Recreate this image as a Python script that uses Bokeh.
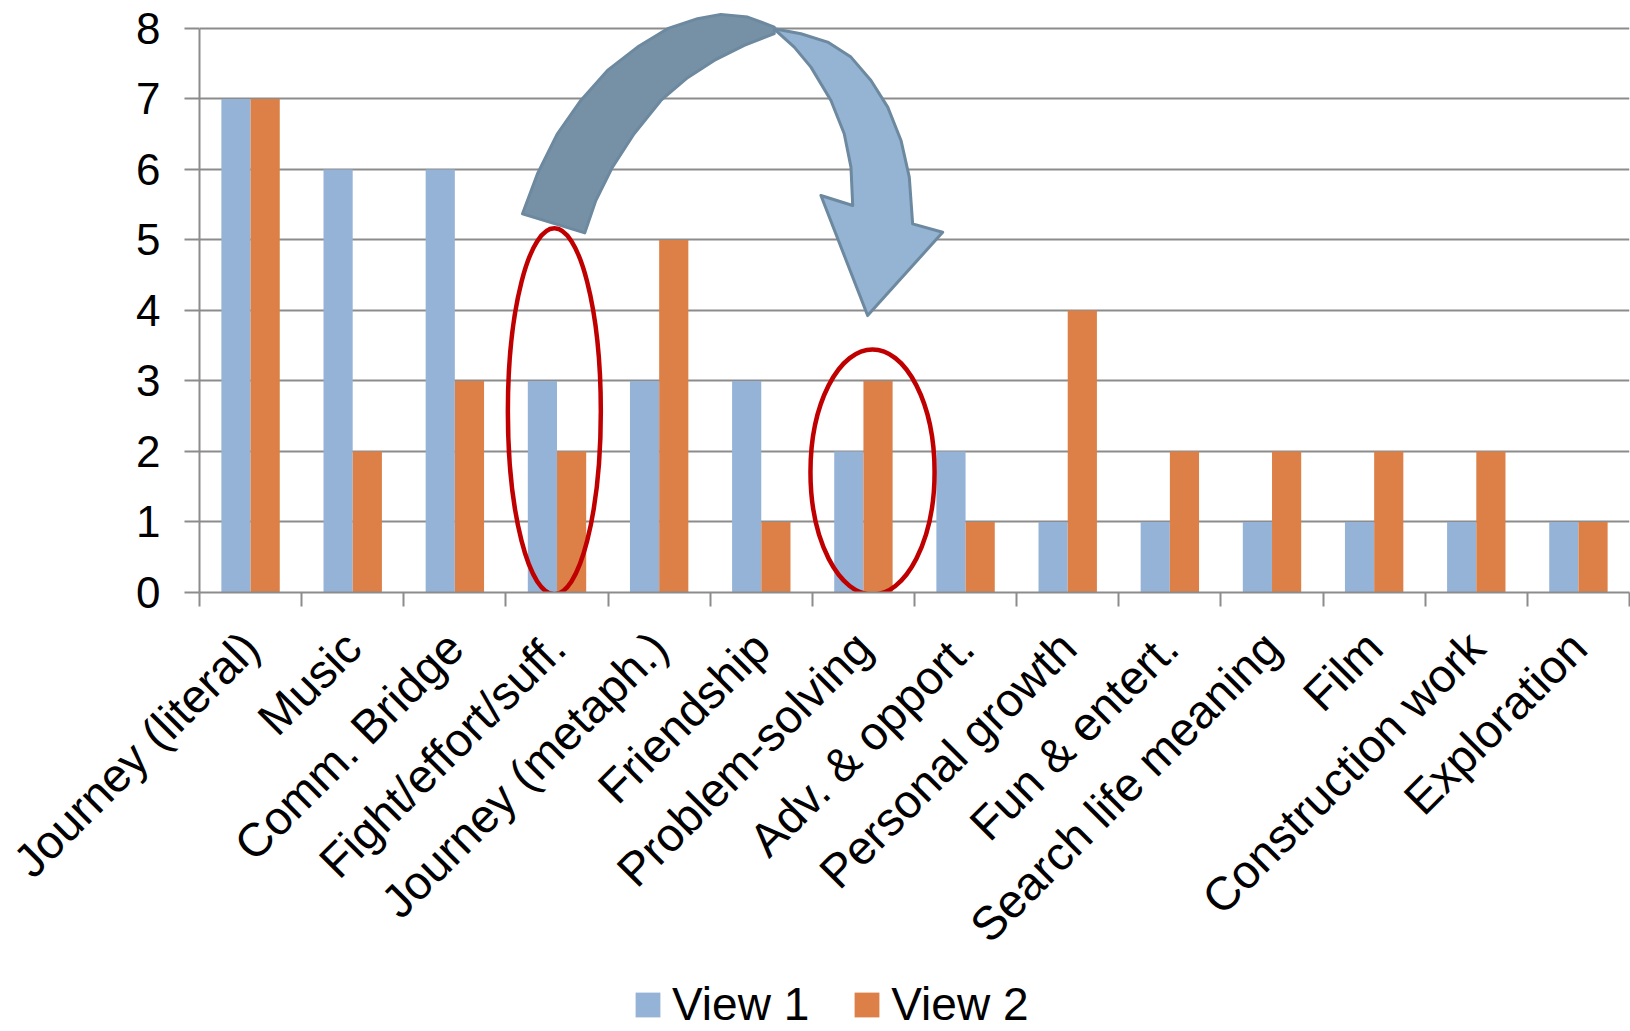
import math
from bokeh.plotting import figure
from bokeh.layouts import column
from bokeh.models import (Range1d, FactorRange, LinearAxis, FixedTicker, Legend,
                          LegendItem, ColumnDataSource, Grid)
from bokeh.transform import dodge
from bokeh.embed import file_html
from bokeh.resources import INLINE

# ---------------- data ----------------
categories = ["Journey (literal)", "Music", "Comm. Bridge", "Fight/effort/suff.",
              "Journey (metaph.)", "Friendship", "Problem-solving", "Adv. & opport.",
              "Personal growth", "Fun & entert.", "Search life meaning", "Film",
              "Construction work", "Exploration"]
view1 = [7, 6, 6, 3, 3, 3, 2, 2, 1, 1, 1, 1, 1, 1]
view2 = [7, 2, 3, 2, 5, 1, 3, 1, 4, 2, 2, 2, 2, 1]
series_names = ["View 1", "View 2"]
y_ticks = [0, 1, 2, 3, 4, 5, 6, 7, 8]

# highlighted categories (red ellipses): category, x offset, width (cat units), y centre, height
highlights = [
    ("Fight/effort/suff.", -0.026, 0.91, 2.57, 5.19),
    ("Problem-solving", 0.089, 1.215, 1.709, 3.475),
]

# curved arrow outline (category units, value units)
arrow_back = [
    (3.162, 5.371), (3.309, 5.939), (3.504, 6.507), (3.733, 6.979), (3.994, 7.405),
    (4.288, 7.736), (4.582, 7.997), (4.876, 8.139), (5.104, 8.200), (5.366, 8.162),
    (5.627, 8.020), (5.627, 7.926), (5.333, 7.760), (5.039, 7.547), (4.778, 7.302),
    (4.517, 6.979), (4.255, 6.507), (4.043, 6.033), (3.880, 5.560), (3.772, 5.101),
]
arrow_front = [
    (5.627, 7.997), (5.888, 7.926), (6.150, 7.807), (6.378, 7.594), (6.574, 7.263),
    (6.738, 6.884), (6.868, 6.412), (6.949, 5.891), (6.982, 5.229), (7.276, 5.110),
    (6.541, 3.928), (6.084, 5.631), (6.395, 5.489), (6.378, 6.033), (6.312, 6.507),
    (6.182, 6.979), (5.986, 7.452), (5.823, 7.736), (5.660, 7.949),
]

# ---------------- styling ----------------
BLUE = "#95B3D7"
ORANGE = "#DD8047"
GRAY = "#8C8C8C"
FONT = "Liberation Sans"

src = ColumnDataSource(data=dict(cat=categories, v1=view1, v2=view2))

p = figure(width=1630, height=974,
           x_range=FactorRange(factors=categories, range_padding=0, factor_padding=0),
           y_range=Range1d(0, 8.255),
           x_axis_type=None, y_axis_type=None,
           toolbar_location=None, output_backend="svg",
           min_border_left=199, min_border_right=1, min_border_top=10,
           min_border_bottom=382)
p.outline_line_color = None
p.background_fill_color = "white"
p.border_fill_color = "white"

# y axis + grid
yticker = FixedTicker(ticks=y_ticks, minor_ticks=[])
yaxis = LinearAxis(ticker=yticker, bounds=(0, 8),
                   axis_line_color=GRAY, axis_line_width=2,
                   major_tick_line_color=GRAY, major_tick_line_width=2,
                   major_tick_out=15, major_tick_in=0,
                   minor_tick_line_color=None,
                   major_label_text_font=FONT, major_label_text_font_size="44px",
                   major_label_text_color="black", major_label_standoff=24)
p.add_layout(yaxis, "left")
p.add_layout(Grid(dimension=1, ticker=yticker, grid_line_color=GRAY, grid_line_width=2))

# x axis: labels at category centres, tick marks between categories
label_ticks = [i + 0.5 for i in range(len(categories))]
xaxis = LinearAxis(ticker=FixedTicker(ticks=label_ticks,
                                      minor_ticks=list(range(len(categories) + 1))),
                   major_label_overrides={t: c for t, c in zip(label_ticks, categories)},
                   major_label_orientation=math.pi / 4,
                   major_tick_line_color=None, major_tick_out=0, major_tick_in=0,
                   minor_tick_line_color=GRAY, minor_tick_line_width=2,
                   minor_tick_out=14, minor_tick_in=0,
                   axis_line_color=GRAY, axis_line_width=2,
                   major_label_text_font=FONT, major_label_text_font_size="47px",
                   major_label_text_color="black", major_label_standoff=33)
p.add_layout(xaxis, "below")

# bars
bw = 0.2857
r1 = p.vbar(x=dodge("cat", -0.143, range=p.x_range), top="v1", width=bw, source=src,
            fill_color=BLUE, line_color=None)
r2 = p.vbar(x=dodge("cat", 0.143, range=p.x_range), top="v2", width=bw, source=src,
            fill_color=ORANGE, line_color=None)

# red ellipses
for cat, dx, w, yc, h in highlights:
    xc = categories.index(cat) + 0.5 + dx
    p.ellipse(x=[xc], y=[yc], width=[w], height=[h], fill_color=None,
              line_color="#C00000", line_width=4.5)

# curved arrow
p.patch(x=[pt[0] for pt in arrow_front], y=[pt[1] for pt in arrow_front],
        fill_color="#95B3D2", line_color="#6C89A0", line_width=3, line_join="round")
p.patch(x=[pt[0] for pt in arrow_back], y=[pt[1] for pt in arrow_back],
        fill_color="#7691A6", line_color="#6C89A0", line_width=3, line_join="round")

# ---------------- legend strip ----------------
pl = figure(width=1630, height=57, x_range=Range1d(0, 1630), y_range=Range1d(0, 57),
            x_axis_type=None, y_axis_type=None, toolbar_location=None,
            output_backend="svg", min_border=0)
pl.outline_line_color = None
pl.background_fill_color = "white"
pl.border_fill_color = "white"
# zero-height key glyphs (only their legend swatches are visible)
key_src = ColumnDataSource(data=dict(x=[0], top=[0], bottom=[0]))
k1 = pl.vbar(x="x", top="top", bottom="bottom", width=0, source=key_src,
             fill_color=BLUE, line_color=None)
k2 = pl.vbar(x="x", top="top", bottom="bottom", width=0, source=key_src,
             fill_color=ORANGE, line_color=None)

legend = Legend(items=[LegendItem(label=series_names[0], renderers=[k1]),
                       LegendItem(label=series_names[1], renderers=[k2])],
                orientation="horizontal", location=(433, 0),
                glyph_width=31, glyph_height=31, label_standoff=9, spacing=42,
                padding=0, margin=0, border_line_color=None, background_fill_alpha=0,
                label_text_font=FONT, label_text_font_size="46px",
                label_text_color="black")
pl.add_layout(legend)

layout = column(p, pl, spacing=0)
open("out.html", "w").write(file_html(layout, INLINE))
